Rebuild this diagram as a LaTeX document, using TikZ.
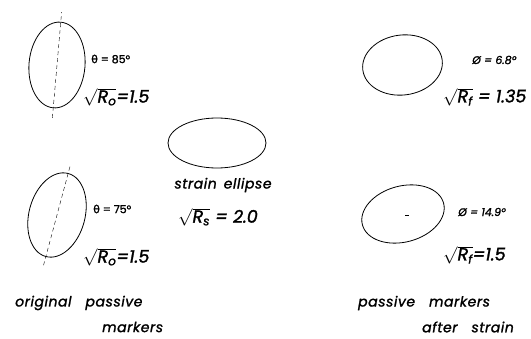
\documentclass[tikz,border=0pt]{standalone}
\usepackage{fontspec}
\setmainfont{Poppins}[FakeBold=1.5]
\newfontfamily\grk{DejaVu Sans}[FakeBold=1.5]
\usetikzlibrary{calc}
\newcommand\rootR[1]{$\sqrt{\mbox{\itshape R}_{\mbox{\fontsize{12}{12}\selectfont\itshape #1}}}$}

\begin{document}
\begin{tikzpicture}[x=1pt,y=1pt,
    marker/.style={thick},
    axisline/.style={dash pattern=on 4pt off 3pt,thin},
    small/.style={inner sep=0pt,anchor=west,font=\fontsize{11}{13}\selectfont},
    big/.style={inner sep=0pt,anchor=west,font=\fontsize{17.5}{19}\selectfont\itshape},
    words/.style={inner sep=0pt,anchor=west,
      font=\fontsize{14}{16}\selectfont\itshape\addfontfeatures{LetterSpace=4}}]
  \useasboundingbox (0,0) rectangle (531,338);

  % original passive markers
  \coordinate (c1) at (57,273);
  \coordinate (c2) at (57,123);
  \draw[marker] (c1) ellipse [x radius=43,y radius=28,rotate=85];
  \draw[marker] (c2) ellipse [x radius=43,y radius=28,rotate=75];
  \draw[axisline] ($(c1)+(265:53)$) -- ($(c1)+(85:53)$);
  \draw[axisline] ($(c2)+(255:52)$) -- ($(c2)+(75:52)$);
  \node[small] (t1) at (91,279) {{\grk θ} = 85°};
  \node[big] (r1) at (83,241) {\rootR{o}=1.5};
  \node[small] (t2) at (93,129) {{\grk θ} = 75°};
  \node[big] (r2) at (83,81) {\rootR{o}=1.5};

  % strain ellipse
  \coordinate (cs) at (217,195);
  \draw[marker] (cs) ellipse [x radius=49,y radius=25];
  \node[words,anchor=center] (se) at (223,153) {strain\enspace ellipse};
  \node[big,anchor=center] (rs) at (218,121) {\rootR{s} = 2.0};

  % passive markers after strain
  \coordinate (c3) at (402.5,273);
  \coordinate (c4) at (403,124);
  \draw[marker] (c3) ellipse [x radius=40,y radius=30,rotate=7];
  \draw[marker] (c4) ellipse [x radius=42,y radius=28,rotate=15];
  \draw[thick] ($(c4)+(2,-1)$) -- ($(c4)+(6,-1)$);
  \node[small] (p1) at (472,278) {\itshape Ø = 6.8°};
  \node[big] (r3) at (443,241) {\rootR{f} = 1.35};
  \node[small] (p2) at (458,126) {\itshape Ø = 14.9°};
  \node[big] (r4) at (443,83) {\rootR{f}=1.5};

  % captions
  \node[words] (o1) at (15,35) {original\quad passive};
  \node[words] (o2) at (102,11) {markers};
  \node[words] (a1) at (358,35) {passive\quad markers};
  \node[words] (a2) at (422,11) {after\quad strain};
\end{tikzpicture}
\end{document}
